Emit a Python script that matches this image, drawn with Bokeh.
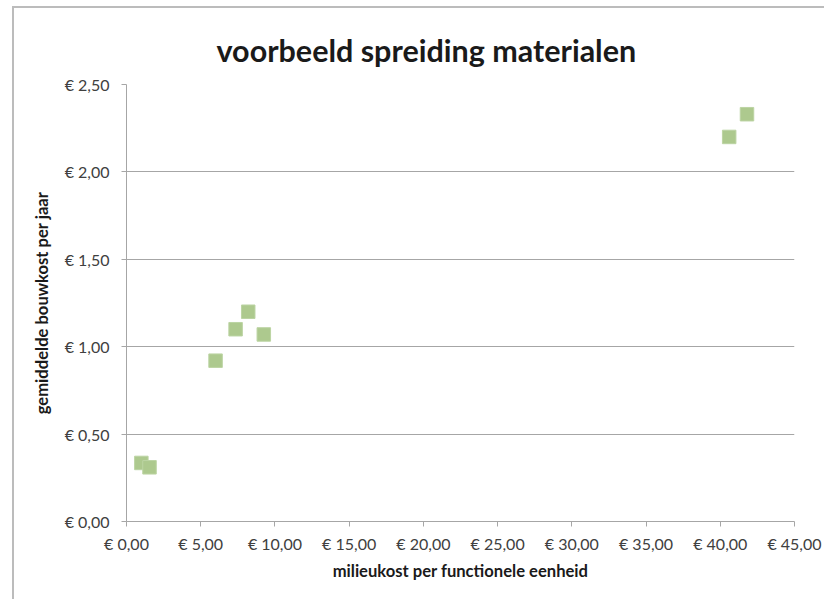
from bokeh.plotting import figure
from bokeh.models import ColumnDataSource, CustomJSTickFormatter, FixedTicker, Range1d
from bokeh.embed import file_html
from bokeh.resources import INLINE

# environmental cost per functional unit (x) vs average building cost per year (y)
milieukost = [1.0, 1.55, 6.0, 7.35, 8.2, 9.25, 40.6, 41.8]
bouwkost = [0.335, 0.31, 0.92, 1.10, 1.20, 1.07, 2.20, 2.33]

x_ticks = [0, 5, 10, 15, 20, 25, 30, 35, 40, 45]
y_ticks = [0, 0.5, 1.0, 1.5, 2.0, 2.5]

FONT = "Lato"
GRID = "#a6a6a6"
TEXT = "#404040"

src = ColumnDataSource(dict(x=milieukost, y=bouwkost))

p = figure(
    width=812, height=593,
    output_backend="svg", toolbar_location=None,
    x_range=Range1d(0, 45), y_range=Range1d(0, 2.5),
    min_border_left=112, min_border_right=32,
    min_border_top=76, min_border_bottom=80,
    title="voorbeeld spreiding materialen",
)
p.styles = {
    "margin-left": "12px", "margin-top": "6px",
    "border-left": "2px solid #bcbcbc", "border-top": "2px solid #bcbcbc",
}

p.title.text_font = FONT
p.title.text_font_size = "30.5px"
p.title.text_font_style = "bold"
p.title.text_color = "#1a1a1a"
p.title.align = "left"
p.title.offset = 90
p.title.standoff = 33

p.outline_line_color = None
p.background_fill_color = "white"
p.border_fill_color = "white"

euro = CustomJSTickFormatter(code="return '€ ' + tick.toFixed(2).replace('.', ',');")

for ax, ticks in ((p.xaxis, x_ticks), (p.yaxis, y_ticks)):
    ax.ticker = FixedTicker(ticks=ticks)
    ax.formatter = euro
    ax.axis_line_color = GRID
    ax.major_tick_line_color = GRID
    ax.major_tick_out = 5
    ax.major_tick_in = 0
    ax.minor_tick_line_color = None
    ax.major_label_text_font = FONT
    ax.major_label_text_font_size = "16px"
    ax.major_label_text_color = TEXT
    ax.axis_label_text_font = FONT
    ax.axis_label_text_font_size = "16.6px"
    ax.axis_label_text_font_style = "bold"
    ax.axis_label_text_color = "#1a1a1a"

p.xaxis.axis_label = "milieukost per functionele eenheid"
p.yaxis.axis_label = "gemiddelde bouwkost per jaar"
p.xaxis.major_label_standoff = 7
p.yaxis.major_label_standoff = 12
p.xaxis.axis_label_standoff = 5
p.yaxis.axis_label_standoff = 10

p.xgrid.grid_line_color = None
p.ygrid.grid_line_color = GRID
p.ygrid.grid_line_width = 1
p.ygrid.ticker = FixedTicker(ticks=y_ticks)

p.scatter("x", "y", source=src, marker="square", size=13.5,
          fill_color="#adc98e", line_color="#bcd4a3", line_width=1)

open("out.html", "w").write(file_html(p, INLINE))
